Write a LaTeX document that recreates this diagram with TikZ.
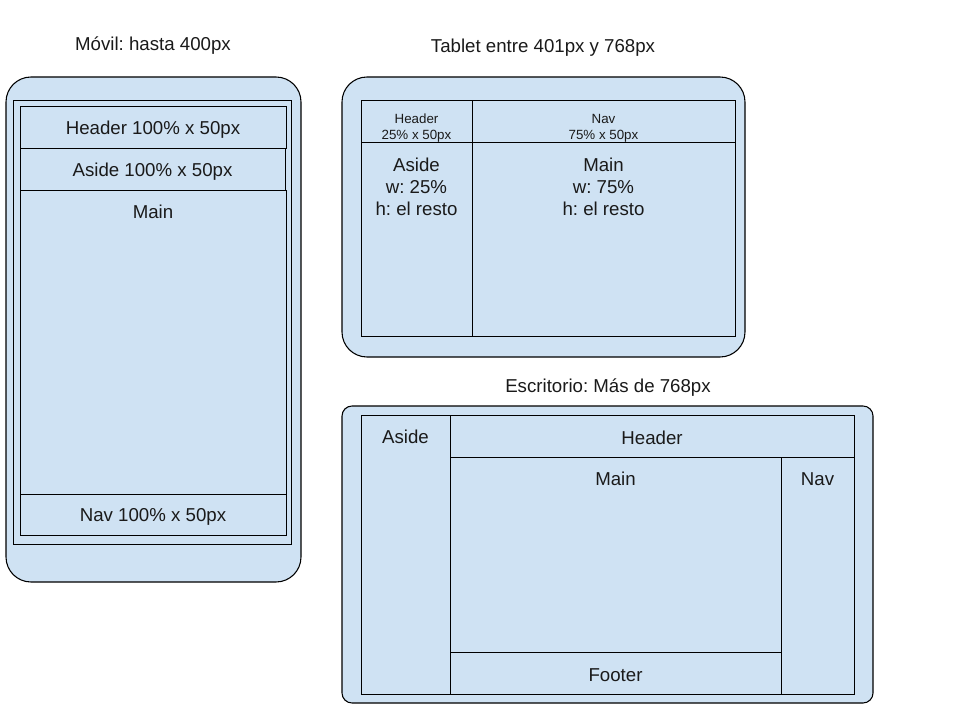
\documentclass[tikz,border=0pt]{standalone}
\usepackage{fontspec}
\setmainfont{Liberation Sans}
\usetikzlibrary{fit}
\definecolor{fillblue}{HTML}{CFE2F3}
\definecolor{txtc}{HTML}{1A1A1A}
\tikzset{
  box/.style={draw=black, fill=fillblue, line width=0.75pt, inner sep=0pt},
  frame/.style={draw=black, fill=fillblue, line width=0.8pt},
  txt/.style={text=txtc, font=\fontsize{14}{16.5}\selectfont, inner sep=0pt, align=center, yshift=-1.5pt},
  small/.style={text=txtc, font=\fontsize{10}{12}\selectfont, inner sep=0pt, align=center, yshift=-1pt},
  ttl/.style={text=txtc, font=\fontsize{14}{16}\selectfont, inner sep=0pt, yshift=-1.5pt},
}
\newcommand\mybox[5]{\node[box, fit={(#2,#3) (#4,#5)}] (#1) {};}
\begin{document}
\frenchspacing
\begin{tikzpicture}[x=0.75pt,y=-0.75pt]
\useasboundingbox (0,0) rectangle (960,720);
\fill[white] (0,0) rectangle (960,720);
% titles
\node[ttl] (t1) at (153,44) {Móvil: hasta 400px};
\node[ttl] (t2) at (543,46) {Tablet entre 401px y 768px};
\node[ttl] (t3) at (608,386) {Escritorio: Más de 768px};
% mobile
\draw[frame, rounded corners=18.75pt] (6,77) rectangle (301,582);
\mybox{mframe}{13}{101}{291}{544}
\mybox{mh}{20}{107}{286}{149}
\mybox{ma}{20}{149}{285}{191}
\mybox{mm}{20}{191}{286}{494}
\mybox{mn}{20}{494}{286}{535}
\node[txt] (mht) at (mh.center) {Header 100\% x 50px};
\node[txt] (mat) at (ma.center) {Aside 100\% x 50px};
\node[txt] (mmt) at (153,210) {Main};
\node[txt] (mnt) at (mn.center) {Nav 100\% x 50px};
% tablet
\draw[frame, rounded corners=18.75pt] (342,77) rectangle (745,357);
\mybox{th}{361}{101}{472}{143}
\mybox{tn}{472}{101}{735}{143}
\mybox{ta}{361}{143}{472}{336}
\mybox{tm}{472}{143}{735}{336}
\node[small] (tht) at (416.5,127) {Header\\25\% x 50px};
\node[small] (tnt) at (603.5,127) {Nav\\75\% x 50px};
\node[txt] (tat) at (416.5,184.5) {Aside\\w: 25\%\\h: el resto};
\node[txt] (tmt) at (603.5,184.5) {Main\\w: 75\%\\h: el resto};
% desktop
\draw[frame, rounded corners=7.5pt] (342,406) rectangle (873,703);
\mybox{da}{361}{415}{450}{694}
\mybox{dh}{450}{415}{854}{457}
\mybox{dm}{450}{457}{781}{652}
\mybox{dn}{781}{457}{854}{694}
\mybox{df}{450}{652}{781}{694}
\node[txt] (dat) at (405.5,435) {Aside};
\node[txt] (dht) at (dh.center) {Header};
\node[txt] (dmt) at (615.5,477) {Main};
\node[txt] (dnt) at (817.5,477) {Nav};
\node[txt] (dft) at (df.center) {Footer};
\end{tikzpicture}
\end{document}
